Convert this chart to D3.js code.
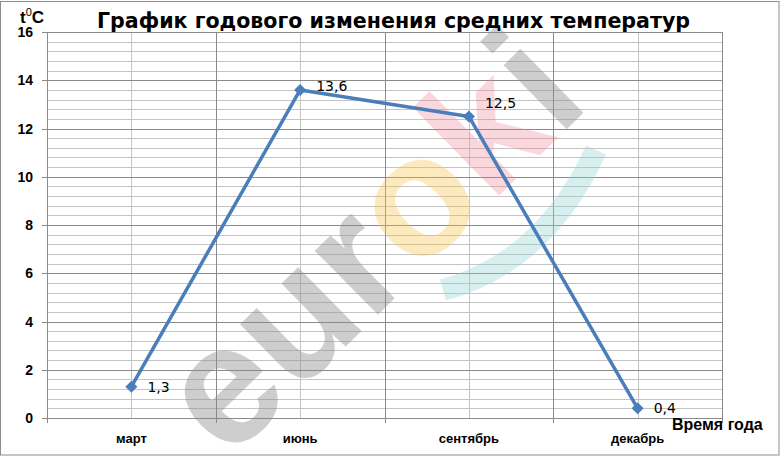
<!DOCTYPE html>
<html><head><meta charset="utf-8">
<script src="https://cdn.jsdelivr.net/npm/d3@7"></script>
<style>body{margin:0;background:#fff}svg{display:block}</style>
</head><body>
<svg id="c" width="780" height="456"></svg>
<script>
const categories = ["март", "июнь", "сентябрь", "декабрь"];
const values = [1.3, 13.6, 12.5, 0.4];
const valueLabels = ["1,3", "13,6", "12,5", "0,4"];
const yTicks = [0, 2, 4, 6, 8, 10, 12, 14, 16];
const title = "График годового изменения средних температур";
const yTitle = "t";
const xTitle = "Время года";

const W = 780, H = 456;
const m = {left: 47, top: 32, right: 58, bottom: 38};
const svg = d3.select("#c");

svg.append("rect").attr("x", 0.5).attr("y", 1.5).attr("width", W - 1.5).attr("height", H - 2.5)
  .attr("fill", "#fff").attr("stroke", "#8c8c8c");

const x = d3.scaleBand().domain(categories).range([m.left, W - m.right]).paddingInner(0).paddingOuter(0);
const cx = c => x(c) + x.bandwidth() / 2;
const y = d3.scaleLinear().domain([0, 16]).range([H - m.bottom, m.top]);

// minor horizontal grid
const g = svg.append("g");
const minor = d3.range(0, 80.1, 2).map(v => v / 5);
g.selectAll(".hm").data(minor.filter(v => !yTicks.includes(v))).join("line")
  .attr("x1", m.left).attr("x2", W - m.right)
  .attr("y1", d => Math.round(y(d)) + 0.5).attr("y2", d => Math.round(y(d)) + 0.5)
  .attr("stroke", "#c4c4c4").attr("stroke-width", 1);
// vertical grid at category centers
g.selectAll(".vc").data(categories).join("line")
  .attr("x1", d => Math.round(cx(d)) + 0.5).attr("x2", d => Math.round(cx(d)) + 0.5)
  .attr("y1", m.top).attr("y2", H - m.bottom)
  .attr("stroke", "#c4c4c4");
// vertical grid at boundaries
const bounds = categories.map(c => x(c)).concat([W - m.right]);
g.selectAll(".vb").data(bounds.slice(1)).join("line")
  .attr("x1", d => Math.round(d) + 0.5).attr("x2", d => Math.round(d) + 0.5)
  .attr("y1", m.top).attr("y2", H - m.bottom + 5)
  .attr("stroke", "#8a8a8a");
// major horizontal grid
g.selectAll(".hM").data(yTicks.filter(v => v > 0)).join("line")
  .attr("x1", m.left).attr("x2", W - m.right)
  .attr("y1", d => Math.round(y(d)) + 0.5).attr("y2", d => Math.round(y(d)) + 0.5)
  .attr("stroke", "#8a8a8a");

// watermark
const wm = svg.append("g").attr("transform", "translate(228,462) rotate(-44.5)")
  .style("font-family", "'Liberation Sans', Arial, sans-serif").style("font-weight", "bold").style("font-size", "170px");
const wt = wm.append("text").attr("x", 0).attr("y", 0);
[["eur", "#8a8a8a", 0.42], ["o", "#f7c54a", 0.36], ["k", "#ee7a8a", 0.3], ["i", "#8a8a8a", 0.42]].forEach(([t, c, o]) => {
  wt.append("tspan").text(t).attr("fill", c).attr("fill-opacity", o);
});
svg.append("path").attr("d", "M443,290 Q545,262 596,150").attr("fill", "none")
  .attr("stroke", "#8fd4d4").attr("stroke-opacity", 0.36).attr("stroke-width", 22);

// axes
svg.append("line").attr("x1", m.left + 0.5).attr("x2", m.left + 0.5).attr("y1", m.top).attr("y2", H - m.bottom + 5).attr("stroke", "#8a8a8a");
svg.append("line").attr("x1", m.left - 5).attr("x2", W - m.right).attr("y1", Math.round(y(0)) + 0.5).attr("y2", Math.round(y(0)) + 0.5).attr("stroke", "#8a8a8a");
svg.selectAll(".yt").data(yTicks).join("line")
  .attr("x1", m.left - 5).attr("x2", m.left)
  .attr("y1", d => Math.round(y(d)) + 0.5).attr("y2", d => Math.round(y(d)) + 0.5).attr("stroke", "#8a8a8a");
svg.selectAll(".yl").data(yTicks).join("text")
  .attr("x", 33).attr("y", d => y(d) + 5).attr("text-anchor", "end")
  .style("font-family", "'Liberation Sans', Arial, sans-serif").style("font-weight", "bold").style("font-size", "14px")
  .text(d => d);
svg.selectAll(".xl").data(categories).join("text")
  .attr("x", d => cx(d)).attr("y", 443).attr("text-anchor", "middle")
  .style("font-family", "'Liberation Sans', Arial, sans-serif").style("font-weight", "bold").style("font-size", "13px")
  .text(d => d);

// series
const pts = categories.map((c, i) => [cx(c), y(values[i])]);
svg.append("path").attr("d", d3.line()(pts)).attr("fill", "none").attr("stroke", "#4a7ebb").attr("stroke-width", 3.5).attr("stroke-linejoin", "round");
svg.selectAll(".mk").data(pts).join("path")
  .attr("transform", d => `translate(${d[0]},${d[1]})`)
  .attr("d", "M0,-6L6,0L0,6L-6,0Z").attr("fill", "#4a7ebb");
svg.selectAll(".dl").data(pts).join("text")
  .attr("x", d => d[0] + 16).attr("y", (d, i) => {
    const drop = i < values.length - 1 ? values[i] - values[i + 1] : 0;
    return d[1] + 5 - (drop > 5 ? 13 : (drop > 0 ? 4 : 0));
  })
  .style("font-family", "'DejaVu Sans', sans-serif").style("font-size", "14px")
  .text((d, i) => valueLabels[i]);

// titles
const tt = svg.append("text").attr("x", 97).attr("y", 28)
  .style("font-family", "'DejaVu Sans', sans-serif").style("font-weight", "bold").style("font-size", "19px")
  .text(title);
const tw = tt.node().getComputedTextLength();
tt.style("font-size", (19 * 593 / tw).toFixed(2) + "px");

const yt = svg.append("text").attr("x", 20).attr("y", 23)
  .style("font-family", "'Liberation Sans', Arial, sans-serif").style("font-weight", "bold").style("font-size", "17px");
yt.append("tspan").text(yTitle);
yt.append("tspan").text("0").attr("dy", -7).style("font-size", "11px").style("font-weight", "normal");
yt.append("tspan").text("C").attr("dy", 7);

svg.append("text").attr("x", 672).attr("y", 430)
  .style("font-family", "'Liberation Sans', Arial, sans-serif").style("font-weight", "bold").style("font-size", "16px")
  .text(xTitle);
</script>
</body></html>
